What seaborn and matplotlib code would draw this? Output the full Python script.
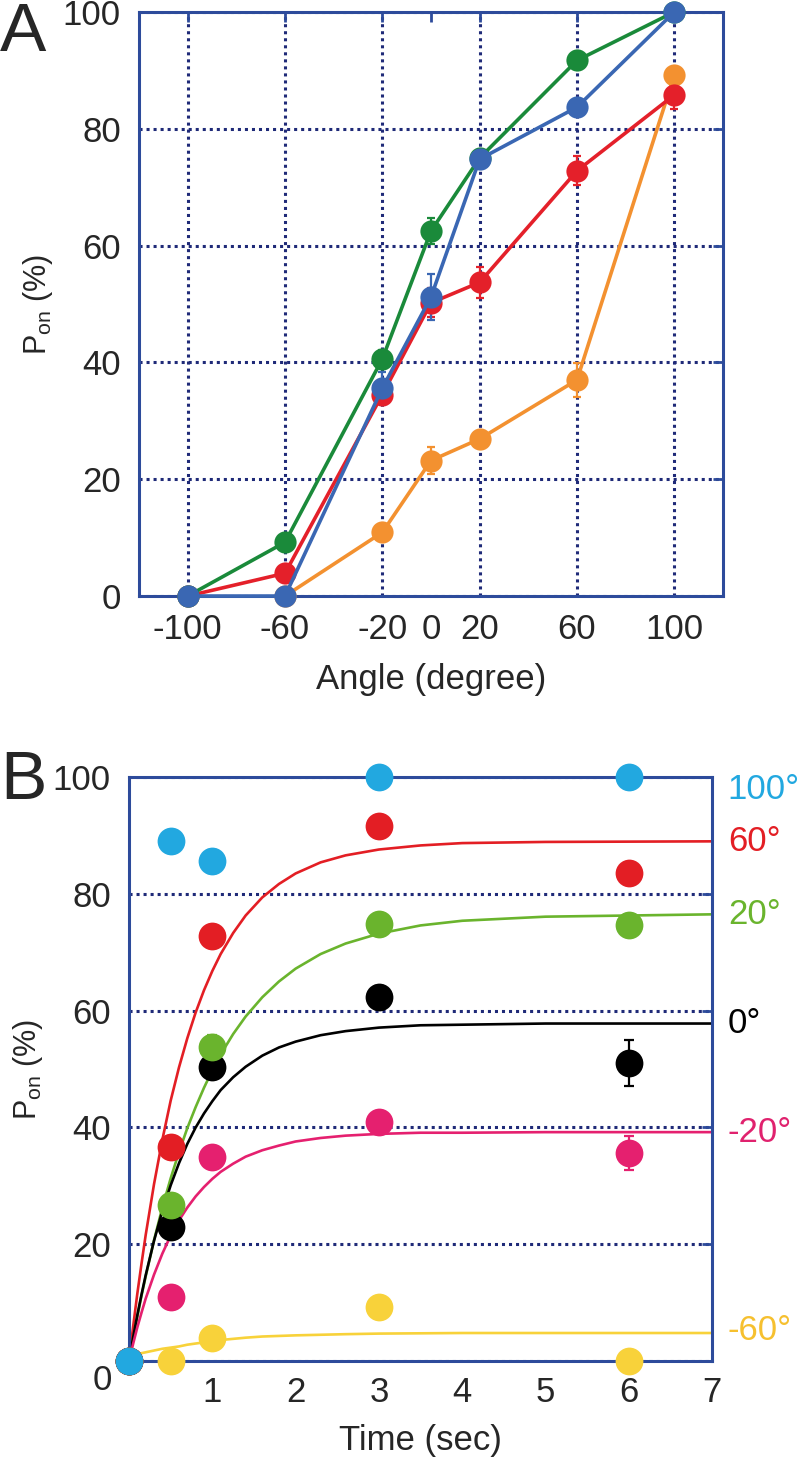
import numpy as np
import pandas as pd
import seaborn as sns
import matplotlib.pyplot as plt

sns.set_style('white')
plt.rcParams['font.family'] = ['Liberation Sans', 'DejaVu Sans']
plt.rcParams['mathtext.default'] = 'regular'
plt.rcParams['axes.unicode_minus'] = False

# ---- panel A data: P_on vs angle ----
angles = [-100, -60, -20, 0, 20, 60, 100]
pon_green = [0, 9.2, 40.6, 62.5, 75.0, 91.7, 100]
pon_red = [0, 3.9, 34.5, 50.2, 53.7, 72.8, 85.8]
pon_blue = [0, 0, 35.6, 51.2, 74.8, 83.7, 100]
angles_orange = [-60, -20, 0, 20, 60, 100]
pon_orange = [0, 10.9, 23.2, 26.9, 37.0, 89.2]

err_green = [0, 1.5, 1.5, 2.2, 1.0, 1.5, 0]
err_red = [0, 1.0, 1.5, 2.5, 2.6, 2.5, 2.5]
err_blue = [0, 0, 2.7, 4.0, 1.5, 1.0, 0]
err_orange = [0, 0, 2.3, 1.0, 2.9, 0]

# ---- panel B data: P_on vs time, per angle ----
times = [0, 0.5, 1, 3, 6]
pts_100 = [0, 89.0, 85.6, 100, 100]
pts_60 = [0, 36.6, 72.8, 91.6, 83.5]
pts_20 = [0, 26.7, 53.8, 74.8, 74.7]
pts_0 = [0, 22.9, 50.4, 62.3, 51.0]
pts_m20 = [0, 11.0, 34.9, 40.9, 35.6]
pts_m60 = [0, 0, 3.9, 9.2, 0]

err_100 = [0, 0, 2.0, 0, 0]
err_60 = [0, 1.5, 1.5, 0, 0]
err_20 = [0, 1.0, 2.0, 0, 0]
err_0 = [0, 1.0, 2.0, 2.0, 3.9]
err_m20 = [0, 0, 0, 0, 2.9]
err_m60 = [0, 0, 0, 0, 0]

# fitted curves, values
fit_t = [0, 0.05, 0.1, 0.15, 0.2, 0.3, 0.4, 0.5, 0.6, 0.7, 0.8, 0.9, 1.0, 1.1, 1.25,
         1.4, 1.6, 1.8, 2.0, 2.3, 2.6, 3.0, 3.5, 4.0, 5.0, 7.0]
fit_60 = [0, 6.0, 11.6, 16.7, 21.6, 30.3, 37.9, 44.6, 50.3, 55.3, 59.7, 63.5, 66.8, 69.7, 73.3,
          76.3, 79.4, 81.7, 83.5, 85.4, 86.6, 87.6, 88.3, 88.7, 88.9, 89.0]
fit_20 = [0, 3.9, 7.6, 11.2, 14.5, 20.7, 26.3, 31.3, 35.8, 39.9, 43.5, 46.8, 49.8, 52.5, 56.0,
          59.0, 62.3, 65.0, 67.2, 69.7, 71.5, 73.2, 74.6, 75.4, 76.1, 76.5]
fit_0 = [0, 4.1, 7.9, 11.4, 14.7, 20.6, 25.7, 30.1, 33.9, 37.2, 40.0, 42.4, 44.5, 46.4, 48.6,
         50.4, 52.3, 53.7, 54.7, 55.8, 56.5, 57.1, 57.5, 57.6, 57.8, 57.8]
fit_m20 = [0, 3.0, 5.8, 8.3, 10.7, 14.8, 18.4, 21.5, 24.1, 26.3, 28.2, 29.8, 31.2, 32.4, 33.8,
           35.0, 36.1, 36.9, 37.6, 38.2, 38.6, 38.9, 39.1, 39.1, 39.2, 39.2]
fit_m60 = [0.8, 1.0, 1.2, 1.35, 1.5, 1.8, 2.1, 2.3, 2.5, 2.8, 3.0, 3.2, 3.4, 3.6, 3.8,
           4.0, 4.2, 4.3, 4.4, 4.5, 4.6, 4.7, 4.75, 4.8, 4.8, 4.8]

label_names = ['100°', '60°', '20°', '0°', '-20°', '-60°']
label_y = [97.8, 89.0, 76.5, 57.8, 39.2, 5.2]

# colours
spine_c = '#2d4b9b'
grid_c = '#1f2a78'
colA = {'orange': '#f39130', 'red': '#e4202a', 'green': '#1a8a3a', 'blue': '#3a67b3'}
colB = {'100°': '#22a8e0', '60°': '#e31e24', '20°': '#6ab42d', '0°': '#000000',
        '-20°': '#e5206f', '-60°': '#f8d23a'}
lab_col = {'100°': '#22a8e0', '60°': '#e31e24', '20°': '#6ab42d', '0°': '#000000',
           '-20°': '#e0226e', '-60°': '#f6c02f'}

fig = plt.figure(figsize=(7.98, 14.58), dpi=100)
axA = fig.add_axes([0.1742, 0.5912, 0.7318, 0.4006])
axB = fig.add_axes([0.1617, 0.0665, 0.7306, 0.4005])

grid_ls = (0, (1, 1.3))


def style_axes(ax):
    for sp in ax.spines.values():
        sp.set_color(spine_c)
        sp.set_linewidth(2.2)
    ax.set_axisbelow(True)


# ---------------- panel A ----------------
dfA = pd.concat([
    pd.DataFrame({'angle': angles_orange, 'pon': pon_orange, 'err': err_orange, 'series': 'orange'}),
    pd.DataFrame({'angle': angles, 'pon': pon_red, 'err': err_red, 'series': 'red'}),
    pd.DataFrame({'angle': angles, 'pon': pon_green, 'err': err_green, 'series': 'green'}),
    pd.DataFrame({'angle': angles, 'pon': pon_blue, 'err': err_blue, 'series': 'blue'}),
])
orderA = ['orange', 'red', 'green', 'blue']
for s in orderA:
    d = dfA[dfA['series'] == s]
    axA.errorbar(d['angle'], d['pon'], yerr=d['err'], fmt='none', ecolor=colA[s],
                 elinewidth=1.6, capsize=3, capthick=1.6, zorder=2, clip_on=False)
sns.lineplot(data=dfA, x='angle', y='pon', hue='series', hue_order=orderA, palette=colA,
             marker='o', markersize=16, markeredgewidth=0, linewidth=2.6,
             errorbar=None, legend=False, ax=axA, clip_on=False, zorder=3)

style_axes(axA)
axA.set_xlim(-120, 120)
axA.set_ylim(0, 100)
axA.set_xticks(angles)
axA.set_yticks([0, 20, 40, 60, 80, 100])
axA.tick_params(axis='both', direction='in', length=7, width=2, color=spine_c,
                labelsize=25, top=True, right=True)
axA.tick_params(axis='x', pad=12)
axA.tick_params(axis='y', pad=13)
axA.grid(True, color=grid_c, linestyle=grid_ls, linewidth=2.2)
for tick, v in zip(axA.xaxis.get_major_ticks(), angles):
    if v == 0:
        tick.gridline.set_visible(False)
axA.set_xlabel('Angle (degree)', fontsize=25)
axA.set_ylabel('P$_{on}$ (%)', fontsize=22)
axA.xaxis.set_label_coords(0.5, -0.115)
axA.yaxis.set_label_coords(-0.144, 0.5)
fig.text(0.0, 0.999, 'A', fontsize=50, va='top', ha='left')

# ---------------- panel B ----------------
ptsB = {'100°': (pts_100, err_100), '60°': (pts_60, err_60), '20°': (pts_20, err_20),
        '0°': (pts_0, err_0), '-20°': (pts_m20, err_m20), '-60°': (pts_m60, err_m60)}
fitsB = {'60°': fit_60, '20°': fit_20, '0°': fit_0, '-20°': fit_m20, '-60°': fit_m60}

dfFit = pd.concat([pd.DataFrame({'t': fit_t, 'pon': v, 'angle': k}) for k, v in fitsB.items()])
sns.lineplot(data=dfFit, x='t', y='pon', hue='angle', palette=colB, linewidth=1.9,
             errorbar=None, legend=False, ax=axB, zorder=2)

orderB = ['-60°', '-20°', '0°', '20°', '60°', '100°']
dfPts = pd.concat([pd.DataFrame({'t': times, 'pon': ptsB[k][0], 'err': ptsB[k][1], 'angle': k})
                   for k in orderB])
for k in orderB:
    d = dfPts[dfPts['angle'] == k]
    axB.errorbar(d['t'], d['pon'], yerr=d['err'], fmt='none', ecolor=colB[k],
                 elinewidth=1.6, capsize=3.5, capthick=1.6, zorder=3, clip_on=False)
for k in orderB:
    d = dfPts[dfPts['angle'] == k]
    sns.scatterplot(data=d, x='t', y='pon', color=colB[k], s=400, linewidth=0,
                    ax=axB, zorder=4, clip_on=False, legend=False)

style_axes(axB)
axB.set_xlim(0, 7)
axB.set_ylim(0, 100)
axB.set_xticks([1, 2, 3, 4, 5, 6, 7])
axB.set_yticks([0, 20, 40, 60, 80, 100])
axB.set_yticklabels(['', '20', '40', '60', '80', '100'])
axB.tick_params(axis='both', direction='in', length=7, width=2, color=spine_c,
                labelsize=25, right=True)
axB.tick_params(axis='x', pad=11)
axB.tick_params(axis='y', pad=13)
axB.grid(True, axis='y', color=grid_c, linestyle=grid_ls, linewidth=2.2)
axB.text(-0.029, -3.4, '0', transform=axB.get_yaxis_transform(), fontsize=25,
         ha='right', va='center', clip_on=False)
for name, yv in zip(label_names, label_y):
    axB.text(1.027, yv, name, transform=axB.get_yaxis_transform(), fontsize=25,
             color=lab_col[name], ha='left', va='center', clip_on=False)
axB.set_xlabel('Time (sec)', fontsize=25)
axB.set_ylabel('P$_{on}$ (%)', fontsize=22)
axB.xaxis.set_label_coords(0.5, -0.108)
axB.yaxis.set_label_coords(-0.144, 0.5)
fig.text(0.0, 0.486, 'B', fontsize=50, va='top', ha='left')

fig.savefig('out.png', dpi=100)
